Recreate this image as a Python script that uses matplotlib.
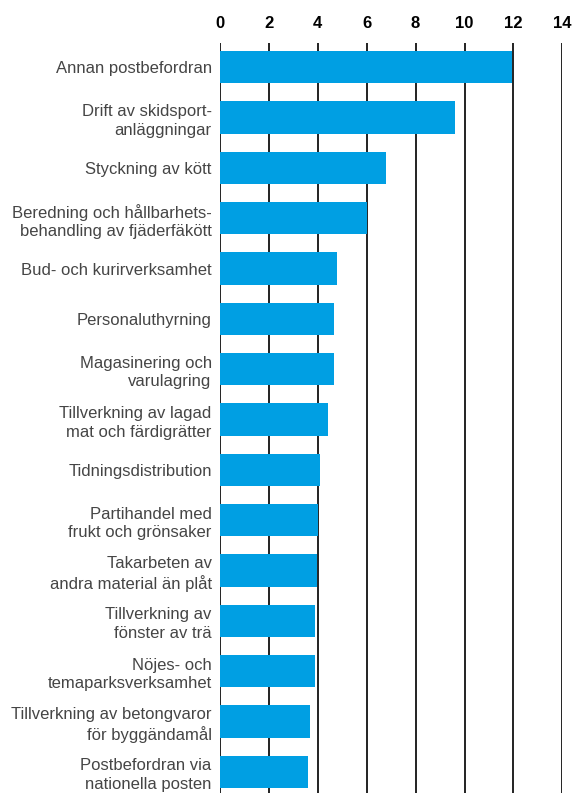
import matplotlib.pyplot as plt

categories = [
    'Annan postbefordran',
    'Drift av skidsport-\nanläggningar',
    'Styckning av kött',
    'Beredning och hållbarhets-\nbehandling av fjäderfäkött',
    'Bud- och kurirverksamhet',
    'Personaluthyrning',
    'Magasinering och\nvarulagring',
    'Tillverkning av lagad\nmat och färdigrätter',
    'Tidningsdistribution',
    'Partihandel med\nfrukt och grönsaker',
    'Takarbeten av\nandra material än plåt',
    'Tillverkning av\nfönster av trä',
    'Nöjes- och\ntemaparksverksamhet',
    'Tillverkning av betongvaror\nför byggändamål',
    'Postbefordran via\nnationella posten',
]
values = [11.95, 9.6, 6.8, 6.0, 4.8, 4.65, 4.65, 4.4, 4.1, 4.0, 3.97, 3.9, 3.9, 3.7, 3.6]
xticks = [0, 2, 4, 6, 8, 10, 12, 14]

plt.rcParams['font.family'] = ['Liberation Sans', 'DejaVu Sans']

fig = plt.figure(figsize=(5.74, 7.93), dpi=100)
ax = fig.add_axes([220 / 574, 0, 342.3 / 574, 1 - 43 / 793])

pos = list(range(len(categories)))
ax.barh(pos, values, height=0.64, color='#009fe3', zorder=3)

ax.set_xlim(0, 14)
ax.set_ylim(len(categories) - 1 + 0.42, -0.48)
ax.set_xticks(xticks)
ax.set_xticklabels([str(t) for t in xticks], fontsize=12, fontweight='bold', color='black')
ax.xaxis.tick_top()
ax.tick_params(axis='x', length=0, pad=9)
ax.set_yticks(pos)
ax.set_yticklabels(categories, fontsize=12, color='#454545', linespacing=1.3)
ax.tick_params(axis='y', length=0, pad=6)

ax.grid(axis='x', color='#222222', linewidth=1.4, zorder=0)
for s in ax.spines.values():
    s.set_visible(False)

fig.savefig('out.png', dpi=100)
